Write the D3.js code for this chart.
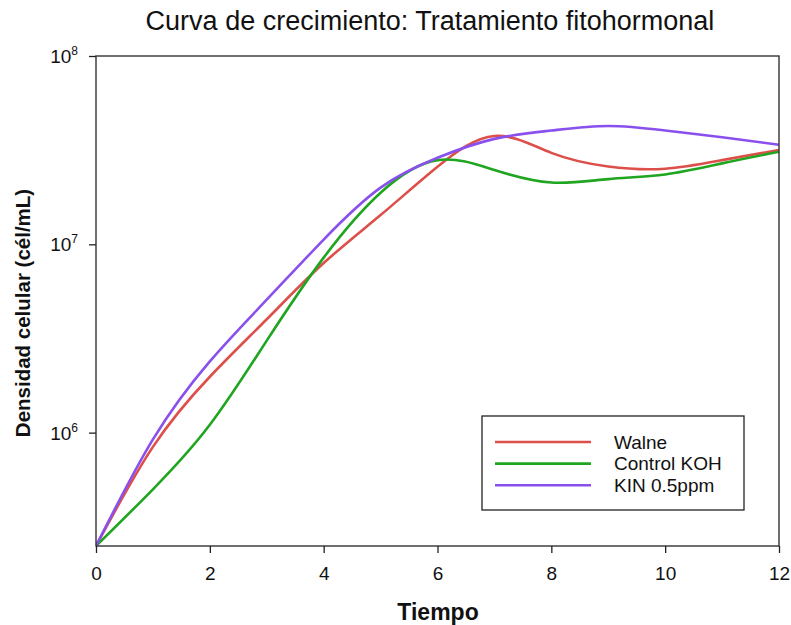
<!DOCTYPE html>
<html>
<head>
<meta charset="utf-8">
<script src="https://cdn.jsdelivr.net/npm/d3@7/dist/d3.min.js"></script>
<style>
  body { margin: 0; background: #fff; }
  svg { display: block; font-family: "Liberation Sans", Arial, sans-serif; }
</style>
</head>
<body>
<svg id="chart" width="791" height="625"></svg>
<script>
// Growth curves: cell density (cells/mL) per time step
const tiempo = [0, 1, 2, 3, 4, 5, 6, 7, 8, 9, 10, 11, 12];
const walne = [2.5e5, 8.4e5, 1.98e6, 4.0e6, 7.95e6, 1.43e7, 2.58e7, 3.76e7, 3.06e7, 2.59e7, 2.52e7, 2.8e7, 3.17e7];
const controlKOH = [2.5e5, 5.0e5, 1.1e6, 3.08e6, 8.5e6, 1.88e7, 2.8e7, 2.48e7, 2.13e7, 2.22e7, 2.35e7, 2.69e7, 3.1e7];
const kin05 = [2.5e5, 9.2e5, 2.39e6, 5.08e6, 1.06e7, 2.0e7, 2.88e7, 3.63e7, 4.02e7, 4.25e7, 4.02e7, 3.7e7, 3.38e7];

const seriesNames = ["Walne", "Control KOH", "KIN 0.5ppm"];
const seriesColors = ["#dc4f4a", "#1fa51f", "#8a50ee"];
const seriesValues = [walne, controlKOH, kin05];

const xTicks = [0, 2, 4, 6, 8, 10, 12];
const yTicks = [1e6, 1e7, 1e8];

const svg = d3.select("#chart");
const W = 791, H = 625;
const margin = { left: 96, top: 56, right: W - 779, bottom: H - 546 };

const x = d3.scaleLinear().domain([0, 12]).range([margin.left, W - margin.right]);
const y = d3.scaleLog().domain([2.5e5, 1e8]).range([H - margin.bottom, margin.top]);

// Title
svg.append("text")
  .attr("x", 430).attr("y", 30)
  .attr("text-anchor", "middle")
  .attr("font-size", 27)
  .attr("fill", "#111")
  .text("Curva de crecimiento: Tratamiento fitohormonal");

// Curves (clipped to plot area)
svg.append("clipPath").attr("id", "plotClip")
  .append("rect")
  .attr("x", x(0)).attr("y", y(1e8))
  .attr("width", x(12) - x(0)).attr("height", y(2.5e5) - y(1e8));

const line = d3.line()
  .x((d, i) => x(tiempo[i]))
  .y(d => y(d))
  .curve(d3.curveNatural);

const curves = svg.append("g").attr("clip-path", "url(#plotClip)");
seriesValues.forEach((vals, k) => {
  curves.append("path")
    .datum(vals)
    .attr("d", line)
    .attr("fill", "none")
    .attr("stroke", seriesColors[k])
    .attr("stroke-width", 2.6)
    .attr("stroke-linejoin", "round");
});

// Frame
svg.append("rect")
  .attr("x", x(0)).attr("y", y(1e8))
  .attr("width", x(12) - x(0)).attr("height", y(2.5e5) - y(1e8))
  .attr("fill", "none")
  .attr("stroke", "#333")
  .attr("stroke-width", 1.4);

// X axis
const xAxis = svg.append("g")
  .attr("transform", `translate(0,${y(2.5e5)})`)
  .call(d3.axisBottom(x).tickValues(xTicks).tickSize(7).tickPadding(14).tickFormat(d3.format("d")));
xAxis.select(".domain").remove();
xAxis.selectAll("line").attr("stroke", "#222").attr("stroke-width", 1.3);
xAxis.selectAll("text").attr("font-size", 19).attr("fill", "#111")
  .attr("font-family", "'Liberation Sans', Arial, sans-serif");

// Y axis with power-of-ten labels
const yAxis = svg.append("g")
  .attr("transform", `translate(${x(0)},0)`)
  .call(d3.axisLeft(y).tickValues(yTicks).tickSize(7).tickFormat(""));
yAxis.select(".domain").remove();
yAxis.selectAll("line").attr("stroke", "#222").attr("stroke-width", 1.3);
yTicks.forEach(v => {
  const t = svg.append("text")
    .attr("x", x(0) - 18).attr("y", y(v) + 7)
    .attr("text-anchor", "end")
    .attr("font-size", 19).attr("fill", "#111");
  t.append("tspan").text("10");
  t.append("tspan").attr("font-size", 12).attr("dy", -8).text(Math.round(Math.log10(v)));
});

// Axis titles
svg.append("text")
  .attr("x", 438).attr("y", 620)
  .attr("text-anchor", "middle")
  .attr("font-size", 23).attr("font-weight", "bold").attr("fill", "#111")
  .text("Tiempo");

svg.append("text")
  .attr("transform", "translate(30,313) rotate(-90)")
  .attr("text-anchor", "middle")
  .attr("font-size", 20.5).attr("font-weight", "bold").attr("fill", "#111")
  .text("Densidad celular (cél/mL)");

// Legend
const legend = svg.append("g").attr("transform", "translate(482,416)");
legend.append("rect")
  .attr("width", 262).attr("height", 94)
  .attr("fill", "#fff").attr("stroke", "#222").attr("stroke-width", 1.3);
seriesNames.forEach((name, k) => {
  const ly = 26 + k * 21.6;
  legend.append("line")
    .attr("x1", 13).attr("x2", 109).attr("y1", ly).attr("y2", ly)
    .attr("stroke", seriesColors[k]).attr("stroke-width", 2.6);
  legend.append("text")
    .attr("x", 132).attr("y", ly + 6.5)
    .attr("font-size", 19).attr("fill", "#111")
    .text(name);
});
</script>
</body>
</html>
